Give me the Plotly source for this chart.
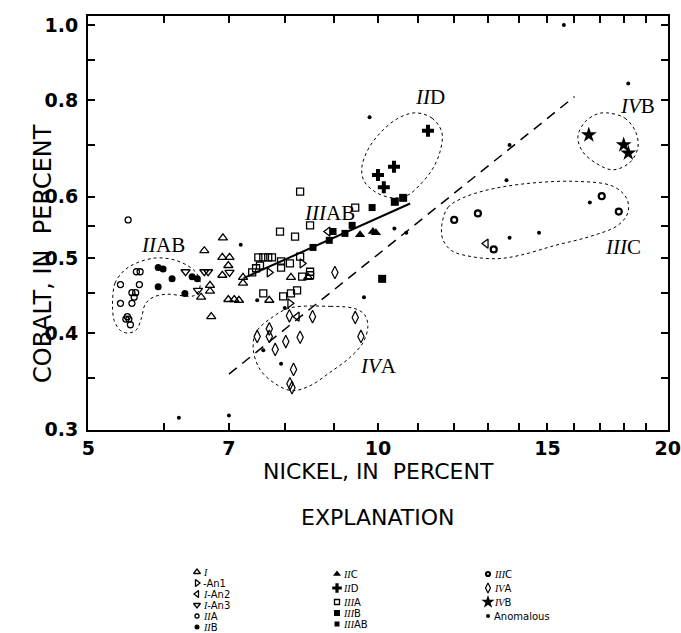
import math
import plotly.graph_objects as go

# ---------------- data: nickel (%) vs cobalt (%) ----------------
I_NI = [6.90, 6.60, 6.89, 7.01, 6.99, 6.89, 6.69, 6.69, 6.55, 6.71, 6.99, 7.09, 7.17, 7.24, 7.24, 7.71, 8.12, 8.46]
I_CO = [0.531, 0.511, 0.501, 0.501, 0.489, 0.475, 0.461, 0.453, 0.445, 0.420, 0.442, 0.442, 0.441, 0.472, 0.464, 0.441, 0.472, 0.472]
IAN1_NI = [7.71, 8.34, 8.10]
IAN1_CO = [0.479, 0.492, 0.437]
IAN2_NI = [8.87, 8.24, 12.95]
IAN2_CO = [0.541, 0.420, 0.522]
IAN3_NI = [6.31, 6.60, 6.66, 7.01, 6.50]
IAN3_CO = [0.480, 0.480, 0.480, 0.479, 0.454]
IIA_NI = [5.50, 5.61, 5.66, 5.40, 5.65, 5.55, 5.60, 5.58, 5.40, 5.55, 5.49, 5.47, 5.51, 5.53]
IIA_CO = [0.560, 0.480, 0.480, 0.462, 0.462, 0.451, 0.451, 0.445, 0.437, 0.437, 0.420, 0.417, 0.417, 0.410]
IIB_NI = [5.91, 5.98, 6.11, 5.91, 6.30, 6.41, 6.49]
IIB_CO = [0.486, 0.484, 0.470, 0.459, 0.450, 0.473, 0.470]
IIC_NI = [9.58, 9.88, 9.95]
IIC_CO = [0.536, 0.541, 0.539]
IID_NI = [11.27, 10.39, 10.00, 10.14]
IID_CO = [0.730, 0.656, 0.640, 0.617]
IIIA_NI = [8.30, 7.91, 8.20, 8.50, 9.47, 7.51, 7.60, 7.69, 7.76, 7.40, 7.47, 7.54,
           7.93, 7.93, 8.10, 8.30, 8.50, 8.34, 8.50, 7.60, 7.97, 8.12, 8.24]
IIIA_CO = [0.609, 0.541, 0.533, 0.551, 0.581, 0.501, 0.501, 0.501, 0.501, 0.479, 0.485, 0.489,
           0.495, 0.486, 0.492, 0.502, 0.480, 0.473, 0.475, 0.450, 0.446, 0.450, 0.454]
IIIB_NI = [10.41, 10.62, 10.10]
IIIB_CO = [0.591, 0.598, 0.470]
IIIAB_NI = [8.56, 8.90, 8.98, 9.24, 9.40, 9.86]
IIIAB_CO = [0.516, 0.527, 0.541, 0.538, 0.551, 0.581]
IIIC_NI = [12.00, 12.70, 13.19, 17.08, 17.79]
IIIC_CO = [0.560, 0.571, 0.513, 0.601, 0.574]
IVA_NI = [7.49, 7.71, 7.71, 7.82, 8.02, 8.30, 8.17, 8.10, 8.14, 8.09, 8.55, 9.02, 9.47, 9.60]
IVA_CO = [0.396, 0.405, 0.396, 0.381, 0.390, 0.395, 0.359, 0.344, 0.340, 0.421, 0.420, 0.479, 0.419, 0.396]
IVB_NI = [16.56, 18.00, 18.20]
IVB_CO = [0.721, 0.700, 0.683]
ANOM_NI = [15.6, 18.2, 9.8, 13.7, 13.6, 16.6, 13.7, 14.7, 10.4, 10.7, 9.67, 7.2, 7.49, 8.0, 7.6, 7.93, 6.21, 7.0]
ANOM_CO = [1.0, 0.84, 0.76, 0.70, 0.63, 0.59, 0.531, 0.539, 0.546, 0.539, 0.445, 0.52, 0.441, 0.431, 0.38, 0.365, 0.311, 0.313]

# trend line (IIIAB) and dividing line
TREND_NI = [7.25, 10.8]
TREND_CO = [0.471, 0.588]
DIVIDE_NI = [7.0, 16.0]
DIVIDE_CO = [0.354, 0.808]

# group outlines
IIAB_OUT_NI = [5.30, 5.33, 5.45, 5.62, 5.87, 6.11, 6.32, 6.46, 6.53, 6.52, 6.44, 6.26, 6.04, 5.84, 5.73, 5.68, 5.61, 5.50, 5.40, 5.32, 5.30, 5.30]
IIAB_OUT_CO = [0.442, 0.464, 0.482, 0.493, 0.500, 0.498, 0.490, 0.480, 0.468, 0.455, 0.447, 0.447, 0.449, 0.445, 0.436, 0.419, 0.404, 0.400, 0.403, 0.415, 0.429, 0.442]
IID_OUT_NI = [10.92, 11.38, 11.65, 11.60, 11.38, 11.06, 10.72, 10.34, 9.93, 9.67, 9.62, 9.76, 10.05, 10.46, 10.92]
IID_OUT_CO = [0.770, 0.758, 0.727, 0.686, 0.650, 0.622, 0.602, 0.598, 0.609, 0.629, 0.654, 0.690, 0.725, 0.756, 0.770]
IVB_OUT_NI = [17.29, 18.05, 18.53, 18.62, 18.26, 17.54, 16.88, 16.32, 16.13, 16.40, 16.88, 17.29]
IVB_OUT_CO = [0.770, 0.758, 0.727, 0.694, 0.664, 0.650, 0.662, 0.686, 0.717, 0.749, 0.767, 0.770]
IIIC_OUT_NI = [11.65, 11.82, 12.22, 12.98, 14.28, 16.09, 17.54, 18.13, 18.18, 17.75, 16.60, 15.27, 14.04, 13.29, 12.52, 11.93, 11.68, 11.65]
IIIC_OUT_CO = [0.552, 0.581, 0.597, 0.612, 0.624, 0.628, 0.619, 0.597, 0.572, 0.551, 0.533, 0.519, 0.504, 0.499, 0.502, 0.511, 0.528, 0.552]
IVA_OUT_NI = [8.10, 8.92, 9.47, 9.69, 9.76, 9.65, 9.35, 8.92, 8.50, 8.14, 7.82, 7.54, 7.42, 7.47, 7.76, 8.10]
IVA_OUT_CO = [0.431, 0.433, 0.430, 0.422, 0.408, 0.389, 0.372, 0.356, 0.342, 0.337, 0.344, 0.359, 0.381, 0.401, 0.419, 0.431]

X_TICKS = [5, 6, 7, 8, 9, 10, 11, 12, 13, 14, 15, 16, 17, 18, 19, 20]
X_LABELS = ["5", "", "7", "", "", "10", "", "", "", "", "15", "", "", "", "", "20"]
Y_TICKS = [0.3, 0.35, 0.4, 0.45, 0.5, 0.55, 0.6, 0.7, 0.8, 0.9, 1.0]
Y_LABELS = ["0.3", "", "0.4", "", "0.5", "", "0.6", "", "0.8", "", "1.0"]

# group labels in plot
GROUP_LABELS = ["<i>II</i>AB", "<i>III</i>AB", "<i>II</i>D", "<i>IV</i>B", "<i>III</i>C", "<i>IV</i>A"]
GROUP_LABEL_NI = [5.98, 8.91, 11.32, 18.6, 17.96, 10.0]
GROUP_LABEL_CO = [0.520, 0.572, 0.807, 0.786, 0.516, 0.3625]

# ---------------- figure ----------------
W, H = 681, 633
PL, PR, PT, PB = 88, 668, 16, 430   # plot area in pixels

fig = go.Figure()

def outline(xs, ys):
    fig.add_trace(go.Scatter(x=xs, y=ys, mode="lines", line=dict(color="black", width=1, dash="3px,3px", shape="spline", smoothing=1.0),
                             hoverinfo="skip", showlegend=False))

outline(IIAB_OUT_NI, IIAB_OUT_CO)
outline(IID_OUT_NI, IID_OUT_CO)
outline(IVB_OUT_NI, IVB_OUT_CO)
outline(IIIC_OUT_NI, IIIC_OUT_CO)
outline(IVA_OUT_NI, IVA_OUT_CO)

fig.add_trace(go.Scatter(x=DIVIDE_NI, y=DIVIDE_CO, mode="lines", line=dict(color="black", width=1.5, dash="10px,7px"),
                         hoverinfo="skip", showlegend=False))
fig.add_trace(go.Scatter(x=TREND_NI, y=TREND_CO, mode="lines", line=dict(color="black", width=2),
                         hoverinfo="skip", showlegend=False))

# style: (symbol, size, line width)
GROUPS = [
    ("I", I_NI, I_CO, "triangle-up-open", 8, 1.3),
    ("I-An1", IAN1_NI, IAN1_CO, "triangle-right-open", 8, 1.3),
    ("I-An2", IAN2_NI, IAN2_CO, "triangle-left-open", 8, 1.3),
    ("I-An3", IAN3_NI, IAN3_CO, "triangle-down-open", 8, 1.3),
    ("IIA", IIA_NI, IIA_CO, "circle-open", 6, 1.3),
    ("IIB", IIB_NI, IIB_CO, "circle", 7, 0),
    ("IIC", IIC_NI, IIC_CO, "triangle-up", 9, 0),
    ("IID", IID_NI, IID_CO, "cross", 10, 0),
    ("IIIA", IIIA_NI, IIIA_CO, "square-open", 7, 1.3),
    ("IIIB", IIIB_NI, IIIB_CO, "square", 8, 0),
    ("IIIAB", IIIAB_NI, IIIAB_CO, "square", 7, 0),
    ("IIIC", IIIC_NI, IIIC_CO, "circle-open", 6, 2.2),
    ("IVA", IVA_NI, IVA_CO, "diamond-tall-open", 9, 1.2),
    ("IVB", IVB_NI, IVB_CO, "star", 12, 0),
    ("Anomalous", ANOM_NI, ANOM_CO, "circle", 4, 0),
]
for name, xs, ys, sym, size, lw in GROUPS:
    fig.add_trace(go.Scatter(x=xs, y=ys, mode="markers", name=name, showlegend=False,
                             marker=dict(symbol=sym, size=size, color="black", line=dict(color="black", width=lw))))

SERIF = "Liberation Serif"
SANS = "DejaVu Sans"

for t, x, y in zip(GROUP_LABELS, GROUP_LABEL_NI, GROUP_LABEL_CO):
    fig.add_annotation(x=math.log10(x), y=math.log10(y), xref="x", yref="y", text=t, showarrow=False,
                       font=dict(family=SERIF, size=21, color="black"))

# ---------------- explanation (legend) ----------------
def rn(s):
    return '<span style="font-family:Liberation Serif"><i>' + s + '</i></span>'

LEG_ITEMS = [
    # (label, group index, column, row pixel)
    (rn("I"), 0, 0, 572),
    ("-An1", 1, 0, 583),
    (rn("I") + "-An2", 2, 0, 594),
    (rn("I") + "-An3", 3, 0, 605),
    (rn("II") + "A", 4, 0, 616),
    (rn("II") + "B", 5, 0, 627),
    (rn("II") + "C", 6, 1, 574),
    (rn("II") + "D", 7, 1, 588),
    (rn("III") + "A", 8, 1, 602),
    (rn("III") + "B", 9, 1, 613),
    (rn("III") + "AB", 10, 1, 624),
    (rn("III") + "C", 11, 2, 574),
    (rn("IV") + "A", 12, 2, 588),
    (rn("IV") + "B", 13, 2, 602),
    ("Anomalous", 14, 2, 616),
]
COL_X = [197, 337, 488]
for label, gi, col, row in LEG_ITEMS:
    name, _, _, sym, size, lw = GROUPS[gi]
    fig.add_trace(go.Scatter(x=[COL_X[col]], y=[row], xaxis="x2", yaxis="y2", mode="markers", showlegend=False,
                             hoverinfo="skip",
                             marker=dict(symbol=sym, size=max(4, size - 2), color="black", line=dict(color="black", width=lw))))
    fig.add_annotation(x=COL_X[col] + 5, y=row, xref="x2", yref="y2", text=label, showarrow=False,
                       xanchor="left", yanchor="middle", borderpad=0,
                       font=dict(family=SANS, size=10, color="black"))

fig.add_annotation(x=(PL + PR) / 2 / W, y=1 - 486 / H, xref="paper", yref="paper", text="NICKEL, IN  PERCENT",
                   showarrow=False, font=dict(family=SANS, size=22, color="black"))
fig.add_annotation(x=(PL + PR) / 2 / W, y=1 - 532 / H, xref="paper", yref="paper", text="EXPLANATION",
                   showarrow=False, font=dict(family=SANS, size=22, color="black"))
fig.add_annotation(x=27 / W, y=1 - 254 / H, xref="paper", yref="paper", text="COBALT, IN  PERCENT", textangle=-90,
                   showarrow=False, font=dict(family=SANS, size=24, color="black"))

axis_common = dict(showgrid=False, zeroline=False, showline=True, linecolor="black", linewidth=2,
                   ticks="inside", ticklen=7, tickwidth=1.5, tickcolor="black", mirror="ticks",
                   tickfont=dict(family=SANS, size=19, color="black", weight="bold"), automargin=False)

fig.update_layout(
    width=W, height=H,
    margin=dict(l=0, r=0, t=0, b=0, pad=0),
    paper_bgcolor="white", plot_bgcolor="white",
    showlegend=False,
    xaxis=dict(type="log", range=[math.log10(5) - 0.0003, math.log10(20) + 0.0003], domain=[PL / W, PR / W],
               tickmode="array", tickvals=X_TICKS, ticktext=X_LABELS, anchor="y", **axis_common),
    yaxis=dict(type="log", range=[math.log10(0.3) - 0.0003, 0.0116], domain=[1 - PB / H, 1 - PT / H],
               tickmode="array", tickvals=Y_TICKS, ticktext=Y_LABELS, anchor="x", ticklabelstandoff=4, **axis_common),
    xaxis2=dict(domain=[0, 1], range=[0, W], visible=False, fixedrange=True, anchor="y2"),
    yaxis2=dict(domain=[0, 0.26], range=[H, H * 0.74], visible=False, fixedrange=True, anchor="x2"),
)

fig.write_html("out.html")
